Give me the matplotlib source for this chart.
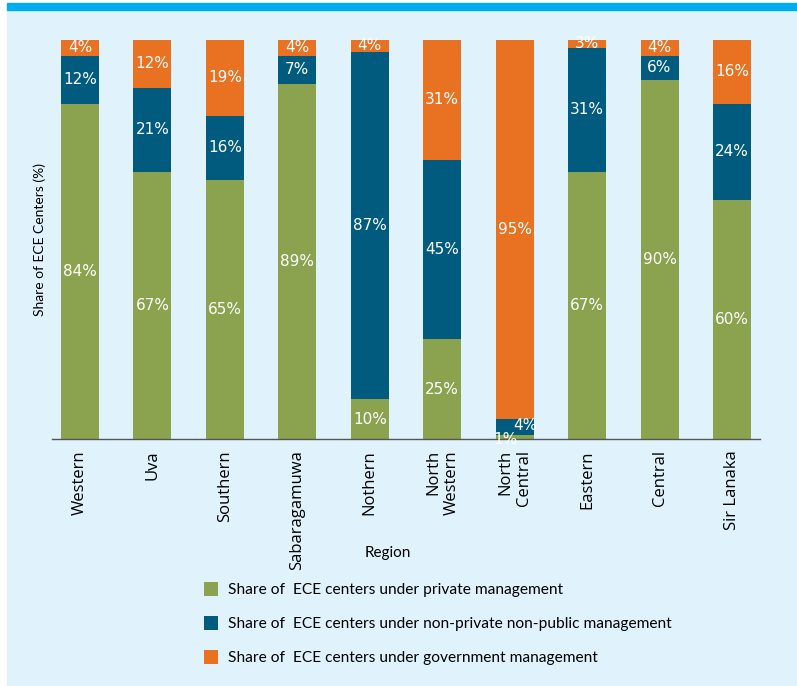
import matplotlib
matplotlib.use("Agg")
import matplotlib.pyplot as plt
from matplotlib.patches import Rectangle
import numpy as np

# data
regions = ["Western", "Uva", "Southern", "Sabaragamuwa", "Nothern",
           "North\nWestern", "North\nCentral", "Eastern", "Central", "Sir Lanaka"]
private = [84, 67, 65, 89, 10, 25, 1, 67, 90, 60]
non_private = [12, 21, 16, 7, 87, 45, 4, 31, 6, 24]
government = [4, 12, 19, 4, 4, 31, 95, 3, 4, 16]

series_names = ["Share of  ECE centers under private management",
                "Share of  ECE centers under non-private non-public management",
                "Share of  ECE centers under government management"]
colors = ["#8BA34E", "#005B7F", "#E87122"]

BG = "#E0F2FC"
W, H = 797, 686

fig = plt.figure(figsize=(W / 100, H / 100), dpi=100)
fig.patch.set_facecolor("white")
# panel background + top band
fig.patches.append(Rectangle((7 / W, 0), 1 - 7 / W, (H - 10) / H,
                             transform=fig.transFigure, color=BG, zorder=-10))
fig.patches.append(Rectangle((7 / W, (H - 10) / H), 1 - 7 / W, 7 / H,
                             transform=fig.transFigure, color="#00AEEF", zorder=-10))

ax = fig.add_axes([52 / W, 247 / H, 708 / W, 399 / H])
ax.set_facecolor(BG)

x = np.arange(len(regions))
width = 0.525
bottom = np.zeros(len(regions))
pct_font = dict(family=["Liberation Sans Narrow", "DejaVu Sans"], fontsize=11, color="white")

# small nudges for the crowded North Central labels (dx, dy)
nudge = {(6, 0): (-0.13, -0.6), (6, 1): (0.15, 0.3)}

for k, vals in enumerate([private, non_private, government]):
    vals = np.array(vals, dtype=float)
    ax.bar(x, vals, width, bottom=bottom, color=colors[k], label=series_names[k])
    for i, v in enumerate(vals):
        top = min(bottom[i] + v, 100)
        mid = (bottom[i] + top) / 2
        dx, dy = nudge.get((i, k), (0, 0))
        ax.text(x[i] + dx, mid + dy, f"{int(v)}%", ha="center", va="center",
                clip_on=False, zorder=5, **pct_font)
    bottom += vals

ax.set_xlim(-0.387, 9.387)
ax.set_ylim(0, 100)
ax.set_yticks([])
ax.set_xticks(x)
ax.set_xticklabels(regions, rotation=90, family="Open Sans", fontsize=12,
                   va="top", ha="center", multialignment="right")
ax.tick_params(axis="x", length=0, pad=8)
for s in ["left", "top", "right"]:
    ax.spines[s].set_visible(False)
ax.spines["bottom"].set_color("#555555")
ax.spines["bottom"].set_linewidth(1)

fig.text(40 / W, 1 - 240 / H, "Share of ECE Centers (%)", rotation=90,
         ha="center", va="center", family="Lato", fontsize=10)
fig.text(388 / W, 1 - 553 / H, "Region", ha="center", va="center",
         family="Lato", fontsize=11)

fig.legend(loc="upper left", bbox_to_anchor=(204 / W, 1 - 582 / H),
           frameon=False, prop=dict(family="Lato", size=11.2),
           handlelength=0.9, handleheight=1.0, handletextpad=0.65,
           labelspacing=1.2, borderpad=0, borderaxespad=0)

fig.savefig("out.png", dpi=100, facecolor=fig.get_facecolor())
